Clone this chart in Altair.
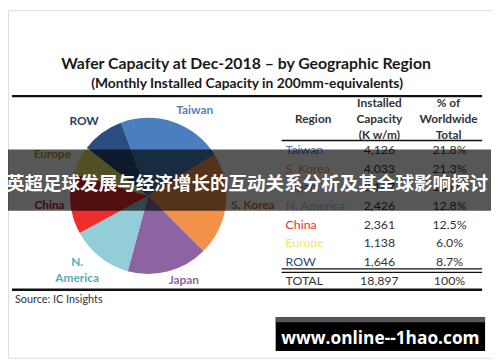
import altair as alt
import pandas as pd
import math

# ---- data ----
regions = ["Taiwan", "S. Korea", "Japan", "N. America", "China", "Europe", "ROW"]
capacity = [4126, 4033, 3167, 2426, 2361, 1138, 1646]
percent = ["21.8%", "21.3%", "16.8%", "12.8%", "12.5%", "6.0%", "8.7%"]
total_label = ["TOTAL", "18,897", "100%"]
slice_colors = ["#4A7EBF", "#F4924A", "#8E63A1", "#93CDD8", "#F02D2D", "#F0E66C", "#2A4C7E"]
label_colors = ["#4F81BD", "#C8733A", "#8A64A3", "#5CAAB8", "#B3242A", "#B0A020", "#233F6A"]
table_colors = ["#3B6AA8", "#C8733A", "#8A64A3", "#3A8A9E", "#E0303E", "#D8B820", "#2B55A0"]

title = "Wafer Capacity at Dec-2018 – by Geographic Region"
subtitle = "(Monthly Installed Capacity in 200mm-equivalents)"
banner = "英超足球发展与经济增长的互动关系分析及其全球影响探讨"
watermark = "www.online--1hao.com"
source = "Source:  IC Insights"

# ---- layout helpers (page pixel -> view pixel) ----
OFF = 8
def px(v):
    return v - OFF

W, H = 490, 352
FONT = "Lato"

layers = []

def text(t, x, y, size=12, color="#222", weight="normal", align="center", font=FONT):
    d = pd.DataFrame({"t": [t]})
    layers.append(
        alt.Chart(d).mark_text(fontSize=size, color=color, fontWeight=weight,
                               align=align, baseline="middle", font=font)
        .encode(x=alt.value(px(x)), y=alt.value(px(y)), text="t:N")
    )

def hline(x1, x2, y, w=1.0, color="#111"):
    d = pd.DataFrame({"a": [0]})
    layers.append(
        alt.Chart(d).mark_rule(strokeWidth=w, color=color)
        .encode(x=alt.value(px(x1)), x2=alt.value(px(x2)), y=alt.value(px(y)))
    )

def rect(x1, x2, y1, y2, color, opacity=1.0):
    d = pd.DataFrame({"a": [0]})
    layers.append(
        alt.Chart(d).mark_rect(color=color, opacity=opacity)
        .encode(x=alt.value(px(x1)), x2=alt.value(px(x2)),
                y=alt.value(px(y1)), y2=alt.value(px(y2)))
    )

# title
text(title, 249, 63, size=16, weight="bold", color="#1a1a1a")
text(subtitle, 250, 83, size=14, weight="bold", color="#1a1a1a")
hline(12, 488, 95, w=2.2)

# pie
pie_df = pd.DataFrame({"region": regions, "cap": capacity, "idx": list(range(len(regions)))})
start = -20.5 * math.pi / 180
layers.append(
    alt.Chart(pie_df).mark_arc(radius=79)
    .encode(
        theta=alt.Theta("cap:Q", stack=True,
                        scale=alt.Scale(range=[start, start + 2 * math.pi])),
        color=alt.Color("region:N", scale=alt.Scale(domain=regions, range=slice_colors), legend=None),
        order=alt.Order("idx:Q"),
        x=alt.value(px(150)), y=alt.value(px(196)),
    )
)

# pie labels
pie_label_pos = {
    "Taiwan": [(197, 109)],
    "S. Korea": [(256, 205)],
    "Japan": [(186, 281)],
    "N. America": [(78, 263), (78, 279)],
    "China": [(50, 205)],
    "Europe": [(53, 154)],
    "ROW": [(85, 120)],
}
for i, r in enumerate(regions):
    pos = pie_label_pos[r]
    parts = [r] if len(pos) == 1 else r.split(" ", 1)
    for p, (x, y) in zip(parts, pos):
        text(p, x, y, size=12, weight="bold", color=label_colors[i])

# table header
for t, y in [("Installed", 102), ("Capacity", 118), ("(K w/m)", 134)]:
    text(t, 384, y, size=12, color="#333", weight="bold")
for t, y in [("% of", 102), ("Worldwide", 118), ("Total", 134)]:
    text(t, 454, y, size=12, color="#333", weight="bold")
text("Region", 317, 118, size=12, color="#333", weight="bold")
hline(285, 488, 140, w=1.6)

# table rows
row0, step = 149.5, 18.9
tab = pd.DataFrame({
    "region": regions,
    "cap": [f"{c:,}" for c in capacity],
    "pct": percent,
    "ypos": [px(row0 + i * step) for i in range(len(regions))],
})
col = alt.Color("region:N", scale=alt.Scale(domain=regions, range=table_colors), legend=None)
layers.append(
    alt.Chart(tab).mark_text(fontSize=12.5, align="left", baseline="middle", font=FONT)
    .encode(x=alt.value(px(289)), y=alt.Y("ypos:Q", scale=None), text="region:N", color=col)
)
layers.append(
    alt.Chart(tab).mark_text(fontSize=12.5, align="center", baseline="middle", font=FONT, color="#333")
    .encode(x=alt.value(px(384)), y=alt.Y("ypos:Q", scale=None), text="cap:N")
)
layers.append(
    alt.Chart(tab).mark_text(fontSize=12.5, align="center", baseline="middle", font=FONT, color="#333")
    .encode(x=alt.value(px(455)), y=alt.Y("ypos:Q", scale=None), text="pct:N")
)
hline(285, 488, 270, w=1.2)
hline(285, 488, 273.5, w=1.2)
text(total_label[0], 289, 282, size=12.5, color="#333", align="left")
text(total_label[1], 384, 282, size=12.5, color="#333")
text(total_label[2], 455, 282, size=12.5, color="#333")
hline(12, 488, 291, w=2.5)

text(source, 15, 301, size=11, color="#333", align="left")

# banner overlay
rect(3, 497, 149, 211, "#000000", opacity=0.66)
text(banner, 250, 184, size=18.8, weight="bold", color="#ffffff", font="Noto Sans CJK SC")

# watermark
rect(279, 491, 319, 353, "#000000")
rect(279, 491, 319, 324, "#555555")
text(watermark, 385, 341, size=17.5, weight="bold", color="#ffffff", font="Open Sans")

chart = alt.layer(*layers).properties(
    width=W, height=H, padding=0, autosize=alt.AutoSizeParams(type="none")
).configure_view(stroke=None).configure(background="#ffffff")

chart.save("out.html", embed_options={"renderer": "svg", "actions": False})
